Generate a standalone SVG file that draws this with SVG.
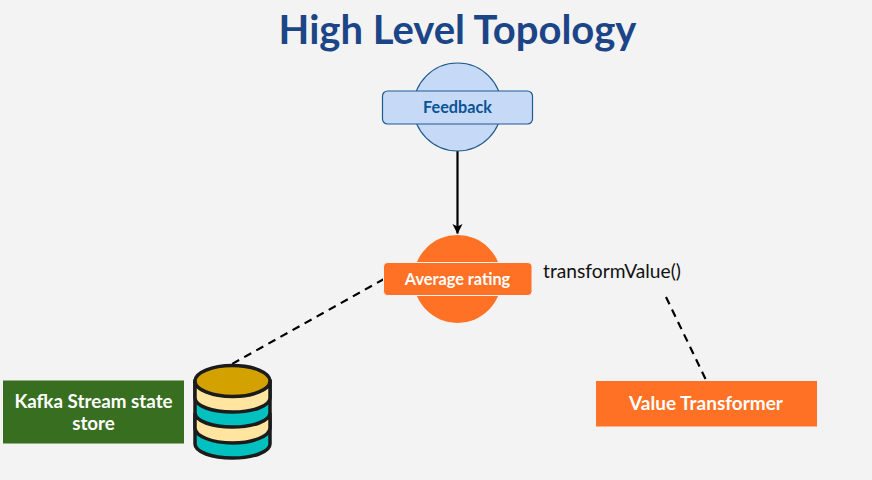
<svg xmlns="http://www.w3.org/2000/svg" width="872" height="480" viewBox="0 0 872 480">
<defs>
<style>
text{font-family:Lato,"Liberation Sans",sans-serif;text-anchor:middle}
.w{fill:#fff;font-weight:700}
.o{fill:#ff7125}
.blue{fill:#c6daf8;stroke:#215a8f;stroke-width:1.2}
.dash{fill:none;stroke:#000;stroke-width:2.200;stroke-dasharray:8 5.830}
.db{stroke:#1b1b1b;stroke-width:3.500}
</style>
<marker id="arrow" markerWidth="12" markerHeight="12" refX="9.500" refY="5" orient="auto" markerUnits="userSpaceOnUse"><path d="M0 0L10 5L0 10L2.500 5Z" fill="#000"/></marker>
</defs>
<rect width="872" height="480" fill="#f3f3f3"/>
<text id="title" x="457.500" y="44" font-size="40" font-weight="700" fill="#1c4587">High Level Topology</text>
<g id="connectors">
<path d="M457.500 151V233.500" fill="none" stroke="#000" stroke-width="2.200" marker-end="url(#arrow)"/>
<path class="dash" d="M384 279L232 364"/>
<path class="dash" d="M666 297L706 380"/>
</g>
<g id="feedback">
<circle class="blue" cx="457.500" cy="107" r="44"/>
<rect class="blue" x="382.500" y="91" width="150" height="33" rx="5"/>
<text x="457.500" y="113" font-size="16.200" font-weight="700" fill="#0b5394">Feedback</text>
</g>
<g id="average-rating">
<circle class="o" cx="457.500" cy="279" r="44"/>
<rect class="o" x="383.500" y="262.500" width="148.500" height="33" rx="4" stroke="#f3f3f3" stroke-width="1"/>
<text class="w" x="457.500" y="285" font-size="16.300">Average rating</text>
</g>
<text id="transform-label" x="612" y="278" font-size="19.200" fill="#111">transformValue()</text>
<g id="state-store-label">
<rect x="3" y="380.500" width="181" height="63" fill="#386e1f"/>
<text class="w" x="93.500" y="408" font-size="18.800">Kafka Stream state</text>
<text class="w" x="93.500" y="430" font-size="18.800">store</text>
</g>
<g id="database">
<path class="db" fill="#00c0c0" d="M195 381V444C195 452 212 458 232.500 458S270 452 270 444V381Z"/>
<path class="db" fill="#ffe5a0" d="M195 413C195 421 212 427 232.500 427S270 421 270 413V428C270 436 253 443 232.500 443S195 436 195 428Z"/>
<path class="db" fill="#ffe5a0" d="M195 381C195 389 212 396 232.500 396S270 389 270 381V398C270 406 253 412 232.500 412S195 406 195 398Z"/>
<ellipse class="db" cx="232.500" cy="381" rx="37.500" ry="15.500" fill="#d4a200"/>
</g>
<g id="value-transformer">
<rect class="o" x="596" y="381" width="221" height="45.500"/>
<text class="w" x="706" y="410" font-size="19">Value Transformer</text>
</g>
</svg>
